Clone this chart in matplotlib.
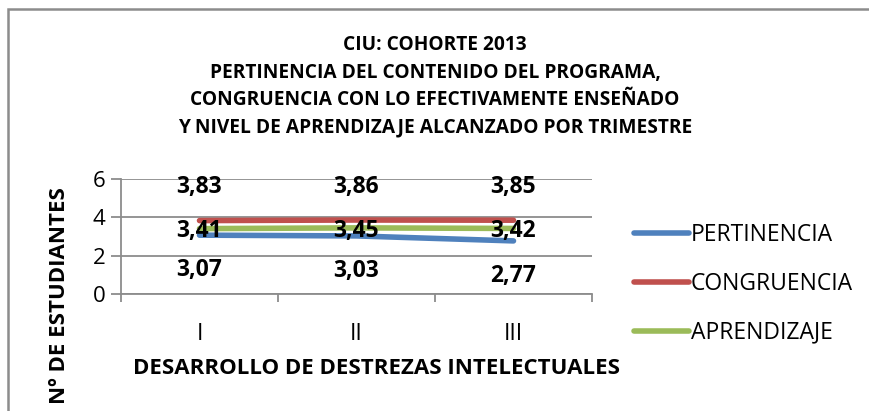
import matplotlib
matplotlib.use("Agg")
import matplotlib.pyplot as plt
from matplotlib.lines import Line2D
from matplotlib.patches import Rectangle

categories = ["I", "II", "III"]
pertinencia = [3.07, 3.03, 2.77]
congruencia = [3.83, 3.86, 3.85]
aprendizaje = [3.41, 3.45, 3.42]
series_names = ["PERTINENCIA", "CONGRUENCIA", "APRENDIZAJE"]
y_ticks = [0, 2, 4, 6]
title_lines = ["CIU: COHORTE 2013",
               "PERTINENCIA DEL CONTENIDO DEL PROGRAMA,",
               "CONGRUENCIA CON LO EFECTIVAMENTE ENSEÑADO",
               "Y NIVEL DE APRENDIZAJE ALCANZADO POR TRIMESTRE"]
xlabel = "DESARROLLO DE DESTREZAS INTELECTUALES"
ylabel = "Nº DE ESTUDIANTES"

colors = {"PERTINENCIA": "#4F81BD", "CONGRUENCIA": "#C0504D", "APRENDIZAJE": "#9BBB59"}
FONT = ["Open Sans", "DejaVu Sans"]
plt.rcParams['font.family'] = FONT

W, H = 870, 411
fig = plt.figure(figsize=(W / 100, H / 100), dpi=100)

def fx(px):
    return px / W

def fy(py):
    return 1 - py / H

# outer border
fig.patches.append(Rectangle((fx(8), fy(440)), fx(900), 431 / H, transform=fig.transFigure,
                             fill=False, edgecolor="#8c8c8c", linewidth=1.8))

ax = fig.add_axes([fx(121), fy(294), fx(592) - fx(121), fy(179) - fy(294)])
x = list(range(len(categories)))

series = {"PERTINENCIA": pertinencia, "CONGRUENCIA": congruencia, "APRENDIZAJE": aprendizaje}
for name in ["PERTINENCIA", "APRENDIZAJE", "CONGRUENCIA"]:
    ax.plot(x, series[name], color=colors[name], linewidth=4, solid_capstyle="round", zorder=3)

# data labels
offsets = {"CONGRUENCIA": 24, "APRENDIZAJE": -2, "PERTINENCIA": -25}
for name in series_names:
    for xi, v in zip(x, series[name]):
        ax.annotate(f"{v:.2f}".replace(".", ","), (xi, v), xytext=(0, offsets[name]),
                    textcoords="offset points", ha="center", va="center",
                    fontsize=16.5, fontweight="bold", color="black", zorder=5)

ax.set_xlim(-0.5, len(categories) - 0.5)
ax.set_ylim(0, 6)
ax.set_yticks(y_ticks)
ax.set_yticklabels([str(t) for t in y_ticks], fontsize=16)
ax.set_xticks(x)
ax.set_xticklabels(categories, fontsize=16.5)
ax.set_xticks([i - 0.5 for i in range(len(categories) + 1)], minor=True)
ax.tick_params(axis="x", which="major", length=0, pad=20)
ax.tick_params(axis="x", which="minor", length=6, width=1.3, color="#8c8c8c", direction="out")
ax.tick_params(axis="y", length=7, width=1.3, color="#8c8c8c", pad=4)
ax.grid(axis="y", color="#8c8c8c", linewidth=1.3)
ax.set_axisbelow(True)
for s in ["top", "right"]:
    ax.spines[s].set_visible(False)
for s in ["left", "bottom"]:
    ax.spines[s].set_color("#8c8c8c")
    ax.spines[s].set_linewidth(1.3)

# title
for i, line in enumerate(title_lines):
    fig.text(fx(435), fy(45 + 27.5 * i), line, ha="center", va="center",
             fontsize=13.8, fontweight="bold")

fig.text(fx(377), fy(368), xlabel, ha="center", va="center", fontsize=16, fontweight="bold")
fig.text(fx(60), fy(296), ylabel, ha="center", va="center", rotation=90,
         fontsize=16, fontweight="bold")

handles = [Line2D([0], [0], color=colors[n], linewidth=4, solid_capstyle="round") for n in series_names]
fig.legend(handles, series_names, loc="center left", bbox_to_anchor=(fx(625), fy(284)),
           frameon=False, fontsize=16.5, handlelength=2.4, handletextpad=0.06,
           labelspacing=1.08, borderaxespad=0)

fig.savefig("out.png", dpi=100)
